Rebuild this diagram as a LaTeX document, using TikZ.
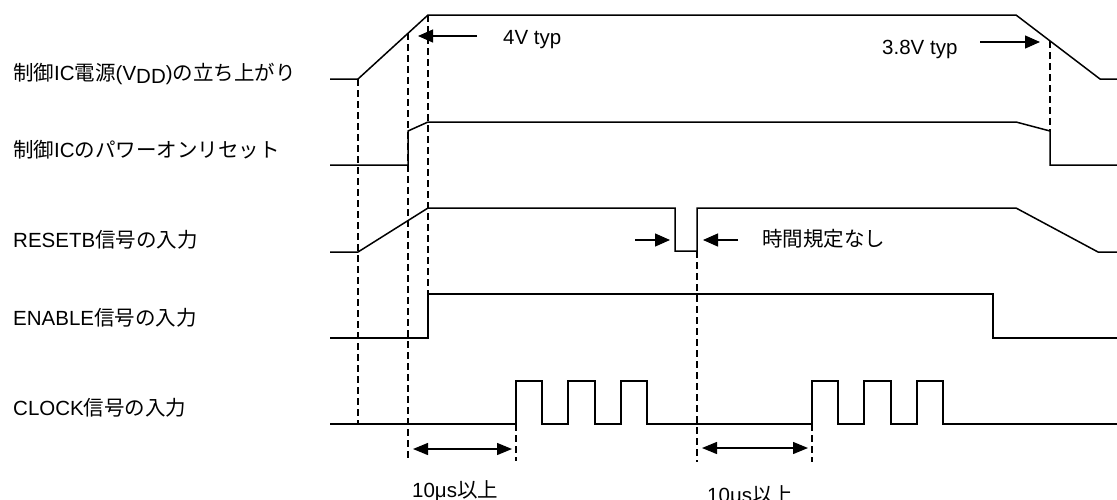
\documentclass[tikz,border=0pt]{standalone}
\usepackage{fontspec}
\setmainfont{Liberation Sans}
\newfontfamily\jp{Noto Sans CJK JP}
\usetikzlibrary{arrows.meta}
\tikzset{
  sig/.style={line width=1.5pt, line join=miter},
  guide/.style={line width=1.3pt, dash pattern=on 7pt off 4pt},
  harrow/.style={line width=1.3pt, -{Triangle[length=15pt,width=13pt]}},
  darrow/.style={line width=1.3pt, {Triangle[length=15pt,width=12pt]}-{Triangle[length=15pt,width=12pt]}},
  lbl/.style={anchor=base west, inner sep=0pt, font=\fontsize{20.5}{24}\selectfont}
}
\begin{document}
\begin{tikzpicture}[x=1pt,y=-1pt]
\useasboundingbox (0,0) rectangle (1117,499);
% labels
\node[lbl] (l1) at (13,80) {{\jp 制御}IC{\jp 電源}(V\raisebox{-3.5pt}{DD}){\jp の立ち上がり}};
\node[lbl] (l2) at (13,157) {{\jp 制御}IC{\jp のパワーオンリセット}};
\node[lbl] (l3) at (13,247) {RESETB{\jp 信号の入力}};
\node[lbl] (l4) at (13,325) {ENABLE{\jp 信号の入力}};
\node[lbl] (l5) at (13,415) {CLOCK{\jp 信号の入力}};
% VDD
\draw[sig] (330,79) -- (358,79) -- (428,15) -- (1016,15) -- (1100,79) -- (1117,79);
% power-on reset
\draw[sig] (330,165) -- (408,165) -- (408,131) -- (428,122) -- (1016,122) -- (1050,131) -- (1050,165) -- (1117,165);
% RESETB
\draw[sig] (330,252) -- (358,252) -- (428,208) -- (675,208) -- (675,251) -- (697,251) -- (697,208) -- (1016,208) -- (1098,252) -- (1117,252);
% ENABLE
\draw[sig] (330,338) -- (428,338) -- (428,294) -- (993,294) -- (993,338) -- (1117,338);
% CLOCK
\draw[sig] (330,424) -- (516,424) -- (516,381) -- (542,381) -- (542,424) -- (568,424) -- (568,381) -- (595,381) -- (595,424) -- (621,424) -- (621,381) -- (647,381) -- (647,424)
  -- (812,424) -- (812,381) -- (838,381) -- (838,424) -- (864,424) -- (864,381) -- (891,381) -- (891,424) -- (917,424) -- (917,381) -- (943,381) -- (943,424) -- (1117,424);
% dashed guides
\draw[guide] (358,79) -- (358,424);
\draw[guide] (408,33) -- (408,460);
\draw[guide] (428,15) -- (428,294);
\draw[guide] (516,424) -- (516,461);
\draw[guide] (697,251) -- (697,462);
\draw[guide] (812,424) -- (812,462);
\draw[guide] (1050,41) -- (1050,131);
% arrows
\coordinate (a1s) at (477,36); \coordinate (a1e) at (418,36);
\draw[harrow] (a1s) -- (a1e);
\node[lbl] (t4v) at (503,44) {4V typ};
\coordinate (a2s) at (980,42); \coordinate (a2e) at (1040,42);
\draw[harrow] (a2s) -- (a2e);
\node[lbl] (t38v) at (882,54) {3.8V typ};
\coordinate (p1s) at (635,240); \coordinate (p1e) at (670,240);
\coordinate (p2s) at (738,240); \coordinate (p2e) at (703,240);
\draw[harrow] (p1s) -- (p1e);
\draw[harrow] (p2s) -- (p2e);
\node[lbl] (tnone) at (762,246) {\jp 時間規定なし};
\coordinate (d1a) at (413,449); \coordinate (d1b) at (512,449);
\draw[darrow] (d1a) -- (d1b);
\coordinate (d2a) at (702,448); \coordinate (d2b) at (808,448);
\draw[darrow] (d2a) -- (d2b);
\node[lbl] (t10a) at (412,497) {10μs{\jp 以上}};
\node[lbl] (t10b) at (707,502) {10μs{\jp 以上}};
\end{tikzpicture}
\end{document}
